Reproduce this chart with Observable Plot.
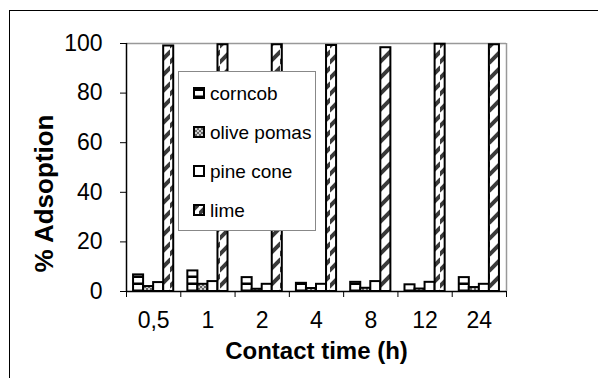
<!DOCTYPE html>
<html>
<head>
<meta charset="utf-8">
<script src="https://cdn.jsdelivr.net/npm/d3@7"></script>
<script src="https://cdn.jsdelivr.net/npm/@observablehq/plot@0.6"></script>
<style>
  body { margin: 0; background: #fff; font-family: "Liberation Sans", Arial, sans-serif; }
  #wrap { position: relative; width: 598px; height: 378px; overflow: hidden; background: #fff; }
  #border { position: absolute; left: 9px; top: 10px; width: 700px; height: 500px; border-top: 1px solid #000; border-left: 1px solid #000; }
  #chart { position: absolute; left: 0; top: 0; }
  #legend { position: absolute; left: 178px; top: 71px; width: 138px; height: 160px; box-sizing: border-box; border: 1px solid #888; background: #fff; }
  #legend svg { display: block; }
</style>
</head>
<body>
<!-- fill patterns shared by the bars and the legend swatches -->
<svg width="0" height="0" style="position:absolute">
  <defs>
    <pattern id="pat-corncob" patternUnits="userSpaceOnUse" width="8" height="7">
      <rect width="8" height="7" fill="#fff"/>
      <rect y="2.5" width="8" height="2.5" fill="#000"/>
    </pattern>
    <pattern id="pat-olive" patternUnits="userSpaceOnUse" width="4" height="4">
      <rect width="4" height="4" fill="#666"/>
      <rect width="2" height="2" fill="#d0d0d0"/>
      <rect x="2" y="2" width="2" height="2" fill="#d0d0d0"/>
    </pattern>
    <pattern id="pat-lime" patternUnits="userSpaceOnUse" width="10" height="16">
      <rect width="10" height="16" fill="#fff"/>
      <path d="M-1,15 L11,3 M-1,31 L11,19 M-1,-1 L11,-13" stroke="#3a3a3a" stroke-width="4"/>
    </pattern>
  </defs>
</svg>
<div id="wrap">
  <div id="border"></div>
  <div id="chart"></div>
  <div id="legend"></div>
</div>
<script>
// contact times (h) and the four adsorbents
const times = ["0,5", "1", "2", "4", "8", "12", "24"];
const series = ["corncob", "olive pomas", "pine cone", "lime"];

// % adsorption at each contact time
const corncob     = [6.7, 8.3, 5.6, 3.3, 3.7, 2.7, 5.6];
const olivePomas  = [2.0, 2.9, 0.9, 1.2, 1.3, 1.0, 1.6];
const pineCone    = [3.6, 4.0, 2.9, 2.9, 4.0, 3.7, 2.9];
const lime        = [99.0, 99.5, 99.5, 99.2, 98.3, 99.7, 99.5];

const yTicks = [0, 20, 40, 60, 80, 100];
const fills = ["url(#pat-corncob)", "url(#pat-olive)", "#fff", "url(#pat-lime)"];

const values = [corncob, olivePomas, pineCone, lime];
const rows = [];
values.forEach((vals, k) => vals.forEach((v, i) => rows.push({ i, k, series: series[k], value: v })));

// each time slot spans one unit on x; the four bars sit side by side inside it
const pad = 0.13, bw = 0.185;

const chart = Plot.plot({
  width: 598,
  height: 378,
  marginLeft: 126,
  marginRight: 92,
  marginTop: 43,
  marginBottom: 87,
  style: { fontFamily: "'Liberation Sans', Arial, sans-serif", fontSize: "23px", color: "#000", background: "transparent", overflow: "visible" },
  x: { domain: [0, times.length], ticks: d3.range(times.length + 1), tickSize: 6, tickFormat: () => "", label: null },
  y: { domain: [0, 100], ticks: yTicks, tickSize: 6, tickPadding: 18, label: null },
  color: { domain: series, range: fills },
  marks: [
    Plot.ruleY([100], { stroke: "#999", strokeWidth: 1.5 }),
    Plot.ruleX([times.length], { stroke: "#999", strokeWidth: 1.5 }),
    Plot.rectY(rows, {
      x1: d => d.i + pad + d.k * bw,
      x2: d => d.i + pad + (d.k + 1) * bw,
      y: "value",
      fill: "series",
      stroke: "#000",
      strokeWidth: 2
    }),
    Plot.ruleY([0], { stroke: "#000", strokeWidth: 1.5 }),
    Plot.ruleX([0], { stroke: "#000", strokeWidth: 1.5 }),
    Plot.text(times, { x: (d, i) => i + 0.5, frameAnchor: "bottom", lineAnchor: "middle", dy: 29, fontSize: 23 }),
    Plot.text(["Contact time (h)"], { frameAnchor: "bottom", lineAnchor: "middle", dy: 60, fontWeight: "bold", fontSize: 24 }),
    Plot.text(["% Adsoption"], { frameAnchor: "left", textAnchor: "middle", lineAnchor: "middle", dx: -82, dy: 26, rotate: -90, fontWeight: "bold", fontSize: 26 })
  ]
});
document.getElementById("chart").append(chart);

// legend inside the plot area
const lg = d3.select("#legend").append("svg").attr("width", 136).attr("height", 158)
  .style("font-family", "'Liberation Sans', Arial, sans-serif");
series.forEach((s, k) => {
  const cy = 21 + k * 39;
  lg.append("rect").attr("x", 15).attr("y", cy - 5).attr("width", 10).attr("height", 10)
    .attr("fill", fills[k]).attr("stroke", "#000").attr("stroke-width", 2);
  lg.append("text").attr("x", 31).attr("y", cy).attr("dy", "0.35em")
    .attr("font-size", 19).text(s);
});
</script>
</body>
</html>
